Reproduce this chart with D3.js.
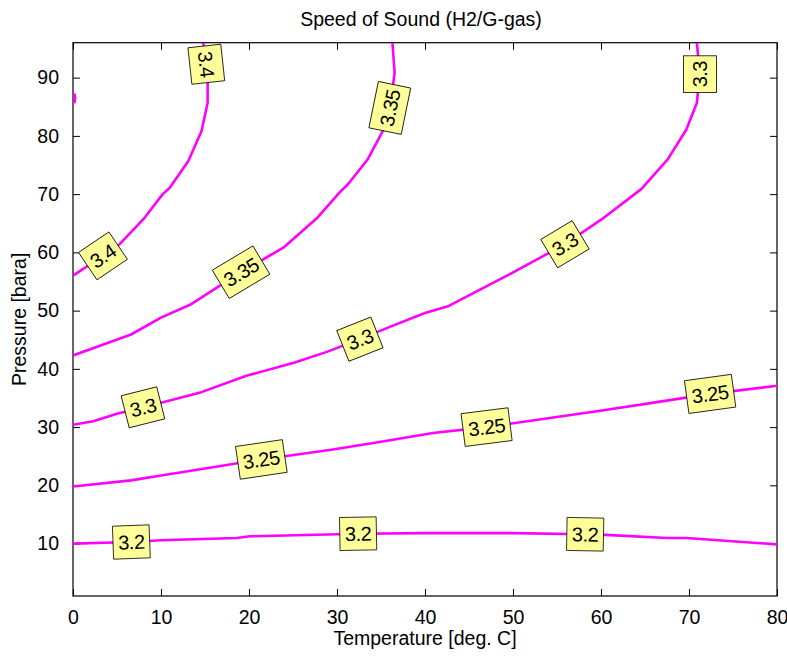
<!DOCTYPE html>
<html>
<head>
<meta charset="utf-8">
<script src="https://cdn.jsdelivr.net/npm/d3@7"></script>
<style>
  html, body { margin: 0; padding: 0; background: #fff; }
  svg { display: block; }
  text { font-family: Arial, "Liberation Sans", sans-serif; fill: #000; }
</style>
</head>
<body>
<div id="chart"></div>
<script>
// ---------------- data ----------------
const chartTitle = "Speed of Sound (H2/G-gas)";
const xLabel = "Temperature [deg. C]";
const yLabel = "Pressure [bara]";
const xTicks = [0, 10, 20, 30, 40, 50, 60, 70, 80];
const yTicks = [10, 20, 30, 40, 50, 60, 70, 80, 90];
const xDomain = [0, 80];
const yDomain = [1, 96];

// contour lines: [temperature, pressure]
const contour320 = [[0,10],[6.6,10.27],[10,10.56],[18.6,10.96],[20.1,11.25],[32.4,11.7],[40,11.8],[50,11.8],[58.2,11.6],[60.5,11.5],[67.5,10.96],[69.7,10.96],[80,9.87]];
const contour325 = [[0,19.8],[6.6,20.85],[10,21.7],[15,22.9],[21.4,24.45],[29.35,26.1],[35,27.5],[40.9,29.0],[47,30.0],[53,31.3],[60.1,32.85],[66,34.2],[72.4,35.7],[80,37.1]];
const contour330 = [[0,30.4],[2.3,31],[5,32.3],[8,33.4],[10,34.2],[14.6,36],[19.7,38.8],[25.2,41.1],[29,43],[32.6,45.1],[36,47.2],[40,49.6],[42.7,50.8],[49.7,56.3],[55.9,61.4],[60.1,65.7],[64.6,70.9],[67.6,76],[69.7,81.1],[70.9,85.7],[71.2,90.6],[70.9,96]];
const contour335 = [[0,42.3],[6.6,45.9],[10,48.8],[13.3,51],[16.7,54.3],[19.1,56.6],[23.9,60.8],[27.8,66],[30.3,70.3],[31.25,71.7],[33.5,76],[35.2,80.8],[36,84.8],[36.55,90.8],[36.3,96]];
const contour340 = [[0,56],[2.5,58.5],[5.3,61.4],[8,65.7],[10.2,70],[11,71.1],[13.1,75.7],[14.6,80.8],[15.3,85.7],[15.3,89],[15.1,92.5],[14.8,96]];
const contour345 = [[0.15,87.3],[0.25,86.5],[0.15,85.6]];
const contourLevels = ["3.2", "3.25", "3.3", "3.35", "3.4", "3.45"];
const contourLines = [contour320, contour325, contour330, contour335, contour340, contour345];

// label anchors: level and [temperature, pressure]
const labelLevels = ["3.4","3.4","3.35","3.35","3.3","3.3","3.3","3.3","3.25","3.25","3.25","3.2","3.2","3.2"];
const labelPoints = [[3.4,59.4],[15.15,92.3],[19.1,56.6],[36.0,84.8],[7.95,33.4],[32.6,45.1],[55.9,61.4],[71.25,90.6],[21.4,24.45],[47.0,30.0],[72.4,35.7],[6.63,10.27],[32.4,11.7],[58.2,11.6]];

// ---------------- drawing ----------------
const W = 787, H = 657;
const margin = { left: 73, right: 10, top: 42.7, bottom: 61 };
const x = d3.scaleLinear().domain(xDomain).range([margin.left, W - margin.right]);
const y = d3.scaleLinear().domain(yDomain).range([H - margin.bottom, margin.top]);

const svg = d3.select("#chart").append("svg").attr("width", W).attr("height", H);

const clipId = "plotclip";
svg.append("clipPath").attr("id", clipId).append("rect")
  .attr("x", x(xDomain[0])).attr("y", y(yDomain[1]))
  .attr("width", x(xDomain[1]) - x(xDomain[0])).attr("height", y(yDomain[0]) - y(yDomain[1]));

// axes (ticks inward)
const tickLen = 7;
svg.append("g").attr("transform", `translate(0,${y(yDomain[0])})`)
  .call(d3.axisBottom(x).tickValues(xTicks).tickSizeInner(-tickLen).tickSizeOuter(0).tickPadding(14))
  .call(g => {
    g.select(".domain").remove();
    g.selectAll("text").attr("font-size", 19.5);
    g.selectAll(".tick").filter(d => d === xDomain[1]).select("text").attr("text-anchor", "end").attr("dx", "0.56em");
  });
svg.append("g").attr("transform", `translate(0,${y(yDomain[1])})`)
  .call(d3.axisTop(x).tickValues(xTicks).tickSizeInner(-tickLen).tickSizeOuter(0).tickFormat(""))
  .call(g => g.select(".domain").remove());
svg.append("g").attr("transform", `translate(${x(xDomain[0])},0)`)
  .call(d3.axisLeft(y).tickValues(yTicks).tickSizeInner(-tickLen).tickSizeOuter(0).tickPadding(14))
  .call(g => { g.select(".domain").remove(); g.selectAll("text").attr("font-size", 19.5); });
svg.append("g").attr("transform", `translate(${x(xDomain[1])},0)`)
  .call(d3.axisRight(y).tickValues(yTicks).tickSizeInner(-tickLen).tickSizeOuter(0).tickFormat(""))
  .call(g => g.select(".domain").remove());
svg.selectAll(".tick line").attr("stroke", "#000");
svg.selectAll(".tick text").attr("font-family", "Arial, 'Liberation Sans', sans-serif").attr("fill", "#000");

// frame
svg.append("rect")
  .attr("x", x(xDomain[0])).attr("y", y(yDomain[1]))
  .attr("width", x(xDomain[1]) - x(xDomain[0])).attr("height", y(yDomain[0]) - y(yDomain[1]))
  .attr("fill", "none").attr("stroke", "#000").attr("stroke-width", 1.2);

// contour lines
const line = d3.line().x(d => x(d[0])).y(d => y(d[1]));
svg.append("g").attr("clip-path", `url(#${clipId})`)
  .selectAll("path").data(contourLines).join("path")
  .attr("d", line)
  .attr("fill", "none").attr("stroke", "#ff00ff").attr("stroke-width", 2.6)
  .attr("stroke-linejoin", "round");

// labels
const labelsG = svg.append("g");
labelLevels.forEach((lev, i) => {
  const p = labelPoints[i];
  const pts = contourLines[contourLevels.indexOf(lev)];
  let best = 0, bd = Infinity;
  pts.forEach((q, k) => {
    const d = (x(q[0]) - x(p[0])) ** 2 + (y(q[1]) - y(p[1])) ** 2;
    if (d < bd) { bd = d; best = k; }
  });
  const a = pts[Math.max(0, best - 1)], b = pts[Math.min(pts.length - 1, best + 1)];
  let ang = Math.atan2(y(b[1]) - y(a[1]), x(b[0]) - x(a[0])) * 180 / Math.PI;
  if (ang > 90) ang -= 180;
  if (ang < -90) ang += 180;
  const g = labelsG.append("g").attr("transform", `translate(${x(p[0])},${y(p[1])}) rotate(${ang})`);
  const rect = g.append("rect");
  const t = g.append("text").text(lev).attr("font-size", 20)
    .attr("text-anchor", "middle").attr("dy", "0.36em").attr("letter-spacing", -0.5);
  const bb = t.node().getBBox();
  const bw = bb.width + 10, bh = 33;
  rect.attr("x", -bw / 2).attr("y", -bh / 2).attr("width", bw).attr("height", bh)
    .attr("fill", "#ffff99").attr("stroke", "#000").attr("stroke-width", 0.8);
});

// title and axis labels
svg.append("text").attr("x", (x(xDomain[0]) + x(xDomain[1])) / 2 - 4).attr("y", 26)
  .attr("text-anchor", "middle").attr("font-size", 19.5).text(chartTitle);
svg.append("text").attr("x", (x(xDomain[0]) + x(xDomain[1])) / 2).attr("y", 645)
  .attr("text-anchor", "middle").attr("font-size", 19.5).text(xLabel);
svg.append("text").attr("transform", `translate(26,${(y(yDomain[0]) + y(yDomain[1])) / 2}) rotate(-90)`)
  .attr("text-anchor", "middle").attr("font-size", 19.5).text(yLabel);
</script>
</body>
</html>
